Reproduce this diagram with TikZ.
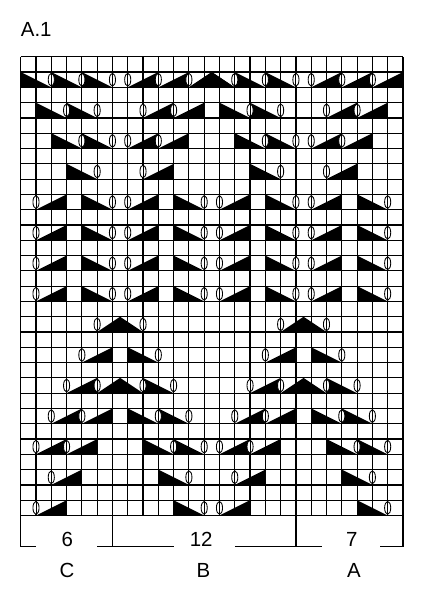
\documentclass[tikz,border=0pt]{standalone}
\usepackage{fontspec}
\setmainfont{Liberation Sans}
\usepackage{tikz}

\tikzset{
  gridline/.style={line width=1.1pt},
  chartlabel/.style={font=\fontsize{19}{22}\selectfont,inner sep=0pt},
  yoshape/.style={draw,fill=white,line width=0.8pt}
}

% symbols: #1 = left grid line, #2 = bottom of the row
\newcommand{\decleft}[2]{\fill (#1,#2) -- (#1,#2+1) -- (#1+2,#2) -- cycle;}
\newcommand{\decright}[2]{\fill (#1,#2) -- (#1+2,#2) -- (#1+2,#2+1) -- cycle;}
\newcommand{\decpeak}[2]{\fill (#1,#2) -- (#1+3,#2) -- (#1+1.5,#2+1) -- cycle;}
\newcommand{\yarnover}[2]{\draw[yoshape] (#1,#2+0.5) ellipse (0.2 and 0.42);
  \draw[line width=0.8pt] (#1,#2+0.08) -- (#1,#2+0.92);}

% left half of the chart, the right half is its mirror image
\newcommand{\halftri}{%
  % top band
  \foreach \x in {0,2,4} {\decleft{\x}{28}}
  \foreach \x in {7,9} {\decright{\x}{28}}
  \decpeak{11}{28}
  \foreach \x in {1,3} {\decleft{\x}{26}}
  \foreach \x in {8,10} {\decright{\x}{26}}
  \foreach \x in {2,4} {\decleft{\x}{24}}
  \foreach \x in {7,9} {\decright{\x}{24}}
  \decleft{3}{22}
  \decright{8}{22}
  % middle band
  \foreach \y in {14,16,18,20} {
    \foreach \x in {1,7} {\decright{\x}{\y}}
    \foreach \x in {4,10} {\decleft{\x}{\y}}
  }
  % lower band
  \decpeak{5}{12}
  \decright{4}{10} \decleft{7}{10}
  \decright{3}{8} \decpeak{5}{8} \decleft{8}{8}
  \foreach \x in {2,4} {\decright{\x}{6}}
  \foreach \x in {7,9} {\decleft{\x}{6}}
  \foreach \x in {1,3} {\decright{\x}{4}}
  \foreach \x in {8,10} {\decleft{\x}{4}}
  \decright{2}{2} \decleft{9}{2}
  \decright{1}{0} \decleft{10}{0}
}
\newcommand{\halfyo}{%
  \foreach \x in {2,4,6,7,9,11} {\yarnover{\x}{28}}
  \foreach \x in {3,5,8,10} {\yarnover{\x}{26}}
  \foreach \x in {4,6,7,9} {\yarnover{\x}{24}}
  \foreach \x in {5,8} {\yarnover{\x}{22}}
  \foreach \y in {14,16,18,20} {
    \foreach \x in {1,6,7,12} {\yarnover{\x}{\y}}
  }
  \foreach \x in {5,8} {\yarnover{\x}{12}}
  \foreach \x in {4,9} {\yarnover{\x}{10}}
  \foreach \x in {3,5,8,10} {\yarnover{\x}{8}}
  \foreach \x in {2,4,9,11} {\yarnover{\x}{6}}
  \foreach \x in {1,3,10,12} {\yarnover{\x}{4}}
  \foreach \x in {2,11} {\yarnover{\x}{2}}
  \foreach \x in {1,12} {\yarnover{\x}{0}}
}

\begin{document}
\begin{tikzpicture}[x=0.5cm,y=0.5cm]
\useasboundingbox (-1.354,-5.526) rectangle (26.443,33.715);

% Grid
\draw[gridline,step=1] (0,0) grid (25,30);

% Triangles
\halftri
\begin{scope}[shift={(25,0)},xscale=-1]
\halftri
\end{scope}

% Yarn overs
\halfyo
\begin{scope}[shift={(25,0)},xscale=-1]
\halfyo
\end{scope}

% Repeat brackets
\draw[gridline] (0.98,-2.04) -- (0,-2.04) -- (0,0);
\draw[gridline] (5,-2.04) -- (10,-2.04);
\draw[gridline] (6,-2.04) -- (6,0);
\draw[gridline] (14,-2.04) -- (19.7,-2.04);
\draw[gridline] (18,-2.04) -- (18,0);
\draw[gridline] (23.5,-2.04) -- (25,-2.04) -- (25,0);

% Labels
\node[chartlabel,anchor=west] (title) at (0,31.77) {A.1};
\node[chartlabel] (countC) at (3.04,-1.54) {6};
\node[chartlabel] (countB) at (11.8,-1.54) {12};
\node[chartlabel] (countA) at (21.65,-1.54) {7};
\node[chartlabel] (partC) at (3.03,-3.58) {C};
\node[chartlabel] (partB) at (11.95,-3.58) {B};
\node[chartlabel] (partA) at (21.8,-3.58) {A};

\end{tikzpicture}
\end{document}
